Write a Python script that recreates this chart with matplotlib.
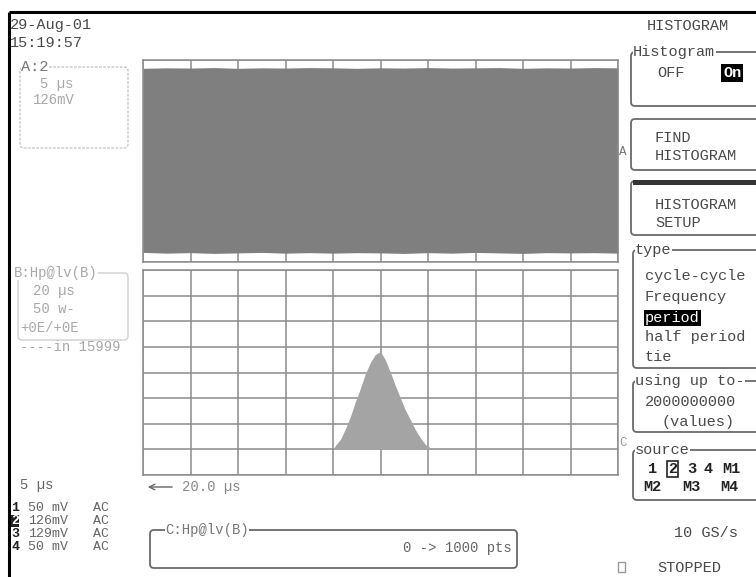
import matplotlib
matplotlib.use("Agg")
import matplotlib.pyplot as plt
from matplotlib.patches import FancyBboxPatch, Rectangle
import numpy as np

# ---------------- data ----------------
# upper trace: noise envelope (divisions, screen centre = 0)
env_x = [0.0, 0.5, 1.0, 1.5, 2.0, 2.5, 3.0, 3.5, 4.0, 4.5, 5.0,
         5.5, 6.0, 6.5, 7.0, 7.5, 8.0, 8.5, 9.0, 9.5, 10.0]
env_top = [3.67, 3.69, 3.68, 3.70, 3.67, 3.69, 3.68, 3.70, 3.69, 3.67, 3.69,
           3.68, 3.70, 3.68, 3.69, 3.70, 3.67, 3.69, 3.68, 3.70, 3.69]
env_bot = [-3.62, -3.65, -3.63, -3.66, -3.64, -3.62, -3.65, -3.63, -3.65, -3.63, -3.64,
           -3.66, -3.63, -3.65, -3.62, -3.64, -3.66, -3.63, -3.64, -3.63, -3.65]

# histogram of period: bin centres (divisions) and heights (divisions above baseline)
hist_x = [4.00, 4.05, 4.16, 4.26, 4.37, 4.47, 4.58, 4.68, 4.79, 4.89, 5.00,
          5.10, 5.21, 5.31, 5.42, 5.52, 5.63, 5.73, 5.84, 5.94, 6.05, 6.10]
hist_heights = [0.00, 0.15, 0.40, 0.80, 1.30, 1.85, 2.40, 2.95, 3.40, 3.70, 3.82,
                3.50, 3.00, 2.50, 2.00, 1.55, 1.15, 0.78, 0.45, 0.20, 0.06, 0.00]
hist_base = 1.0

date_str = "29-Aug-01"
time_str = "15:19:57"
channels = ["1", "2", "3", "4"]
ch_scale = ["50 mV", "126mV", "129mV", "50 mV"]
ch_coupling = ["AC", "AC", "AC", "AC"]
type_items = ["cycle-cycle", "Frequency", "period", "half period", "tie"]

# ---------------- figure ----------------
W, H = 756, 577
fig = plt.figure(figsize=(W / 100, H / 100), dpi=100)
fig.patch.set_facecolor("white")

FONT = "Liberation Mono"
TXT = "#4a4a4a"
FAINT = "#a8a8a8"
BOXC = "#6a6a6a"


def px_axes(x0, y0, x1, y1):
    return fig.add_axes([x0 / W, (H - y1) / H, (x1 - x0) / W, (y1 - y0) / H])


# grid axes
GRIDC = "#8c8c8c"
ax1 = px_axes(143, 60, 618, 262)
ax2 = px_axes(143, 270, 618, 475)
for ax, ylo, yhi in ((ax1, -4, 4), (ax2, 0, 8)):
    ax.set_xlim(0, 10)
    ax.set_ylim(ylo, yhi)
    ax.set_xticks(range(0, 11))
    ax.set_yticks(range(ylo, yhi + 1))
    ax.tick_params(length=0, labelbottom=False, labelleft=False)
    ax.grid(True, color=GRIDC, lw=1.1)
    ax.set_axisbelow(True)
    for s in ax.spines.values():
        s.set_color(GRIDC)
        s.set_linewidth(1.1)

ax1.fill_between(env_x, env_bot, env_top, color="#7f7f7f", lw=0, zorder=2)
ax2.fill_between(hist_x, hist_base, [hist_base + h for h in hist_heights],
                 color="#a4a4a4", lw=0, zorder=2)

# overlay axes in pixel coordinates
ov = fig.add_axes([0, 0, 1, 1], zorder=5)
ov.set_xlim(0, W)
ov.set_ylim(H, 0)
ov.axis("off")
ov.patch.set_alpha(0)

# outer frame lines
ov.plot([9, W], [12, 12], color="black", lw=2.2, solid_capstyle="butt")
ov.plot([9, 9], [12, H], color="black", lw=2.2, solid_capstyle="butt")


def t(x, y, s, size=11, color=TXT, ha="left", **kw):
    ov.text(x, y, s, fontsize=size, color=color, ha=ha, va="center",
            family=FONT, **kw)


def rbox(x0, y0, x1, y1, label=None, color=BOXC, lw=1.3, ls="-"):
    p = FancyBboxPatch((x0, y0), x1 - x0, y1 - y0,
                       boxstyle="round,pad=0,rounding_size=4",
                       fc="none", ec=color, lw=lw, ls=ls, clip_on=False)
    ov.add_patch(p)
    if label:
        ov.text(x0 + 2, y0, label, fontsize=11, color=TXT, ha="left",
                va="center", family=FONT,
                bbox=dict(fc="white", ec="none", pad=0.3))


# ---- top left ----
t(10, 25, date_str)
t(10, 43, time_str)

rbox(20, 67, 128, 148, color="#c8c8c8", lw=1.0, ls=(0, (2, 1)))
t(21, 67, "A:2", color="#777777", bbox=dict(fc="white", ec="none", pad=0.3))
t(40, 84, "5 µs", color=FAINT, size=10)
t(33, 100, "126mV", color=FAINT, size=10)

# ---- left middle (faint) ----
rbox(18, 273, 128, 340, color="#d0d0d0", lw=1.0)
t(14, 273, "B:Hp@lv(B)", color=FAINT, size=10,
  bbox=dict(fc="white", ec="none", pad=0.3))
t(33, 291, "20 µs", color=FAINT, size=10)
t(33, 309, "50 w-", color=FAINT, size=10)
t(20, 328, "+0E/+0E", color=FAINT, size=10)
t(20, 347, "----in 15999", color=FAINT, size=10)

# ---- bottom left ----
t(20, 485, "5 µs", color="#666666", size=10)
ch_y = [508, 521, 534, 547]
for i, (c, sc, cp) in enumerate(zip(channels, ch_scale, ch_coupling)):
    y = ch_y[i]
    if i == 1:
        t(11, y, c, color="white", weight="bold", size=9.5,
          bbox=dict(fc="#222222", ec="none", pad=0.1))
    else:
        t(11, y, c, color="#222222", weight="bold", size=9.5)
    t(28, y, sc, color="#666666", size=9.5)
    t(93, y, cp, color="#666666", size=9.5)

# time/div under lower grid
ov.annotate("", xy=(145, 487), xytext=(175, 487),
            arrowprops=dict(arrowstyle="->", color="#666666", lw=1.0))
t(182, 487, "20.0 µs", color="#888888", size=10)

# bottom trace box
rbox(150, 530, 517, 568)
t(165, 530, "C:Hp@lv(B)", color="#777777", size=10,
  bbox=dict(fc="white", ec="none", pad=0.3))
t(512, 548, "0 -> 1000 pts", ha="right", color="#666666", size=10)

# trace markers at right of grids
t(619, 152, "A", size=9, color="#777777")
t(619, 443, "C", size=9, color="#999999")

# ---- right panel ----
t(688, 26, "HISTOGRAM", ha="center")

rbox(631, 52, 775, 106, label="Histogram")
t(657, 73, "OFF")
t(723, 73, "On", color="white", weight="bold",
  bbox=dict(fc="black", ec="none", pad=1.2))

rbox(631, 119, 775, 170)
t(655, 138, "FIND")
t(655, 156, "HISTOGRAM")

rbox(631, 181, 775, 235)
ov.add_patch(Rectangle((633, 180), 140, 5, fc="#333333", ec="none", clip_on=False))
t(655, 205, "HISTOGRAM")
t(655, 223, "SETUP")

rbox(633, 250, 775, 368, label="type")
type_y = [276, 297, 318, 337, 357]
for s, y in zip(type_items, type_y):
    if s == "period":
        t(645, y, s, color="white",
          bbox=dict(fc="black", ec="none", pad=1.0))
    else:
        t(645, y, s)

rbox(633, 381, 775, 432, label="using up to-")
t(645, 402, "2000000000")
t(662, 422, "(values)")

rbox(633, 450, 775, 500, label="source")
t(648, 469, "1", weight="bold", color="#222222")
t(668, 469, "2", weight="bold", color="#222222",
  bbox=dict(fc="none", ec="#222222", pad=0.8, lw=1.2))
t(687, 469, "3", weight="bold", color="#222222")
t(703, 469, "4", weight="bold", color="#222222")
t(722, 469, "M1", weight="bold", color="#222222")
t(643, 487, "M2", weight="bold", color="#222222")
t(682, 487, "M3", weight="bold", color="#222222")
t(720, 487, "M4", weight="bold", color="#222222")

t(738, 533, "10 GS/s", ha="right")
ov.add_patch(Rectangle((618, 562), 7, 10, fc="none", ec="#999999", lw=1.0))
t(657, 568, "STOPPED")

fig.savefig("out.png", dpi=100)
